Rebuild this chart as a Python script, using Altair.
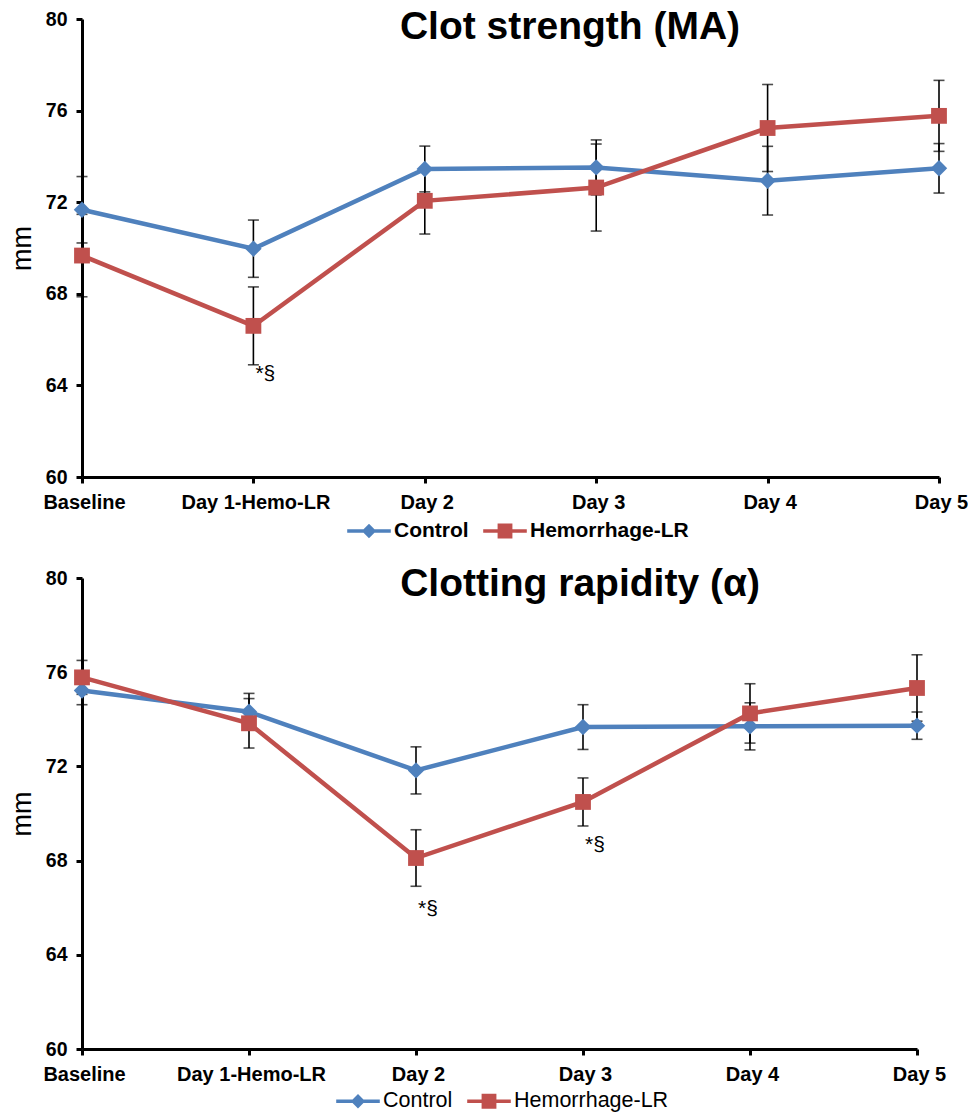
import altair as alt
import pandas as pd

categories = ["Baseline", "Day 1-Hemo-LR", "Day 2", "Day 3", "Day 4", "Day 5"]
series = ["Control", "Hemorrhage-LR"]
colors = ["#4F81BD", "#C0504D"]

# Clot strength (MA)
ma_control = [71.67, 69.97, 73.45, 73.52, 72.94, 73.48]
ma_control_err = [1.45, 1.25, 1.00, 1.20, 1.50, 1.08]
ma_hemo = [69.67, 66.60, 72.06, 72.64, 75.24, 75.77]
ma_hemo_err = [1.80, 1.70, 1.45, 1.90, 1.90, 1.55]
ma_annot_cats = ["Day 1-Hemo-LR"]
ma_annot_y = [64.5]

# Clotting rapidity (alpha)
al_control = [75.22, 74.32, 71.83, 73.67, 73.70, 73.73]
al_control_err = [0.60, 0.78, 1.00, 0.95, 1.00, 0.58]
al_hemo = [75.78, 73.83, 68.11, 70.49, 74.25, 75.33]
al_hemo_err = [0.72, 1.05, 1.20, 1.02, 1.26, 1.41]
al_annot_cats = ["Day 2", "Day 3"]
al_annot_y = [65.95, 68.65]

annot_text = "*\u00a7"
y_ticks = [60, 64, 68, 72, 76, 80]

FONT = "Liberation Sans"

# legend symbols: line + marker
diamond_path = "M-1,-0.085H1V0.085H-1Z M0,-0.33L0.33,0L0,0.33L-0.33,0Z"
square_path = "M-1,-0.085H1V0.085H-1Z M-0.34,-0.34H0.34V0.34H-0.34Z"


def panel(vc, ec, vh, eh, acats, ay, title, width, height, title_x, title_y,
          legend_x, legend_y, legend_weight, legend_size):
    df = pd.DataFrame({
        "cat": categories * 2,
        "series": [series[0]] * len(categories) + [series[1]] * len(categories),
        "value": vc + vh,
        "err": ec + eh,
    })
    base = alt.Chart(df).transform_calculate(
        lo="datum.value - datum.err", hi="datum.value + datum.err"
    )
    xenc = alt.X(
        "cat:N", sort=categories, title=None,
        scale=alt.Scale(type="point", padding=0, domain=categories),
        axis=alt.Axis(labelAngle=0, labelFont=FONT, labelFontSize=20,
                      labelFontWeight="bold", labelColor="black", labelPadding=9,
                      labelOffset=2,
                      domainColor="black", domainWidth=3,
                      tickColor="black", tickWidth=3, tickSize=6, grid=False),
    )
    yscale = alt.Scale(domain=[60, 80], nice=False, zero=False)
    yenc = alt.Y(
        "value:Q", scale=yscale, title="mm",
        axis=alt.Axis(values=y_ticks, labelFont=FONT, labelFontSize=19.5,
                      labelFontWeight="bold", labelColor="black", labelPadding=9,
                      domainColor="black", domainWidth=3, tickColor="black",
                      tickWidth=3, tickSize=6, grid=False, titleFont=FONT,
                      titleFontSize=27, titleFontWeight="normal", titleColor="black",
                      titlePadding=9),
    )
    cscale = alt.Scale(domain=series, range=colors)
    color_nolegend = alt.Color("series:N", scale=cscale, legend=None)

    rules = base.mark_rule(color="black", strokeWidth=1.6).encode(
        x=xenc, y=alt.Y("lo:Q", scale=yscale), y2="hi:Q", detail="series:N")
    cap_lo = base.mark_tick(color="black", thickness=1.6, size=11).encode(
        x=xenc, y=alt.Y("lo:Q", scale=yscale), detail="series:N")
    cap_hi = base.mark_tick(color="black", thickness=1.6, size=11).encode(
        x=xenc, y=alt.Y("hi:Q", scale=yscale), detail="series:N")
    lines = base.mark_line(strokeWidth=4.5).encode(
        x=xenc, y=yenc, color=color_nolegend)
    pts_c = base.transform_filter(alt.datum.series == series[0]).mark_point(
        filled=True, shape="diamond", size=270, opacity=1).encode(
        x=xenc, y=alt.Y("value:Q", scale=yscale), color=color_nolegend)
    pts_h = base.transform_filter(alt.datum.series == series[1]).mark_point(
        filled=True, shape="square", size=250, opacity=1).encode(
        x=xenc, y=alt.Y("value:Q", scale=yscale), color=color_nolegend)

    leg = alt.Legend(orient="none", legendX=legend_x, legendY=legend_y,
                     direction="horizontal", title=None, symbolSize=1900,
                     symbolStrokeWidth=0, labelFont=FONT, labelFontSize=legend_size,
                     labelFontWeight=legend_weight, labelColor="black",
                     labelOffset=3, columnPadding=14, symbolOpacity=1, padding=0)
    # invisible layer that only carries the legend
    carrier = base.mark_point(filled=True, opacity=0, strokeWidth=0).encode(
        x=xenc, y=alt.Y("value:Q", scale=yscale),
        fill=alt.Fill("series:N", scale=cscale, legend=leg),
        shape=alt.Shape("series:N", scale=alt.Scale(domain=series,
                        range=[diamond_path, square_path]), legend=leg),
    )

    adf = pd.DataFrame({"cat": acats, "y": ay, "t": [annot_text] * len(acats)})
    annots = alt.Chart(adf).mark_text(
        font=FONT, fontSize=21, align="left", baseline="middle", dx=2, color="black"
    ).encode(x=xenc, y=alt.Y("y:Q", scale=yscale), text="t:N")

    tdf = pd.DataFrame({"t": [title]})
    ttl = alt.Chart(tdf).mark_text(
        font=FONT, fontSize=39, fontWeight="bold", align="center",
        baseline="alphabetic", color="black"
    ).encode(x=alt.value(title_x), y=alt.value(title_y), text="t:N")

    return alt.layer(carrier, rules, cap_lo, cap_hi, lines, pts_c, pts_h, annots, ttl
                     ).properties(width=width, height=height)


top = panel(ma_control, ma_control_err, ma_hemo, ma_hemo_err, ma_annot_cats, ma_annot_y,
            "Clot strength (MA)", 857, 458, 488, 20, 265, 490, "bold", 21)
bottom = panel(al_control, al_control_err, al_hemo, al_hemo_err, al_annot_cats, al_annot_y,
               "Clotting rapidity (\u03b1)", 835, 471, 498, 18, 254, 501, "normal", 21.5)

chart = alt.vconcat(top, bottom, spacing=24).resolve_scale(
    x="independent", y="independent", color="independent", shape="independent",
    fill="independent"
).resolve_legend(color="independent", shape="independent", fill="independent").properties(
    padding={"left": 0, "top": 0, "right": 0, "bottom": 0}
).configure(background="white").configure_view(strokeWidth=0, stroke="transparent"
).configure_axis(grid=False)

chart.save("out.html", embed_options={"renderer": "svg", "actions": False})
